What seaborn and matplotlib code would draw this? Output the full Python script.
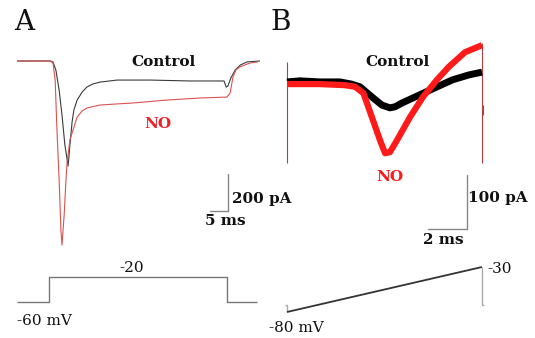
import numpy as np
import pandas as pd
import matplotlib
matplotlib.use("Agg")
import matplotlib.pyplot as plt
import seaborn as sns

# ---------------- data ----------------
# Panel A: current traces, time in ms, current in pA
a_ctrl_t = [0, 9.2, 10.0, 10.8, 11.7, 12.5, 13.3, 14.2, 14.7, 15.3, 15.8, 16.7, 18.1, 19.4,
            21.1, 23.1, 27.8, 36.9, 48.1, 57.5, 57.8, 58.1, 58.6, 59.4, 60.6, 62.0, 63.9, 67.5]
a_ctrl_i = [0, 0, -5, -49, -157, -292, -454, -568, -454, -330, -265, -211, -168, -141,
            -124, -114, -103, -103, -108, -108, -124, -141, -135, -92, -49, -22, -5, 0]
a_no_t = [0, 9.2, 10.0, 10.6, 11.1, 11.7, 12.2, 12.5, 13.1, 13.6, 13.9, 14.7, 15.3, 16.7,
          18.1, 19.4, 23.1, 27.8, 32.2, 41.7, 50.8, 58.3, 59.2, 60.0, 60.8, 61.9, 64.7, 66.9]
a_no_i = [0, 0, -11, -103, -373, -643, -914, -995, -832, -643, -551, -427, -389, -303,
          -270, -254, -238, -232, -227, -211, -200, -195, -173, -86, -49, -32, -11, -5]
# Panel A: voltage protocol (ms, mV)
a_v_t = [0, 8.9, 8.9, 58.3, 58.3, 66.7]
a_v_mv = [-60, -60, -20, -20, -60, -60]

# Panel B: ramp currents (ms, pA)
b_ctrl_t = [0, 0.67, 1.69, 2.72, 3.3, 3.74, 4.36, 4.87, 5.28, 5.54, 5.9, 6.8, 7.7, 8.5, 9.33, 9.85, 10]
b_ctrl_i = [2, 4, 2, 2, -2, -7, -26, -41, -46, -44, -37, -22, -7, 6, 15, 19, 20]
b_no_t = [0, 1.69, 2.97, 3.49, 3.92, 4.41, 4.77, 5.03, 5.28, 5.64, 6.31, 6.97, 7.69, 8.3, 9.13, 10]
b_no_i = [-2, -2, -4, -7, -19, -69, -106, -130, -128, -106, -63, -26, 6, 30, 57, 70]
# capacitive transients (ms, pA range)
b_trans_t = [0, 10, 10.05]
b_trans_lo = [-148, -148, -59]
b_trans_hi = [39, 74, -41]
# Panel B: voltage ramp (ms, mV)
b_v_t = [-0.1, 0, 0, 10, 10, 10.1]
b_v_mv = [-72, -72, -80, -30, -72, -72]

# scale bars
a_bar_pa, a_bar_ms = 200, 5
b_bar_pa, b_bar_ms = 100, 2

# ---------------- figure ----------------
W, H = 535, 338
sns.set_theme(style="white")
plt.rcParams["font.family"] = ["DejaVu Serif"]
fig = plt.figure(figsize=(W / 100, H / 100), dpi=100)
fig.patch.set_facecolor("white")


def px_axes(x0, y0, x1, y1, xmap, ymap):
    """Axes covering a pixel box; xmap/ymap: (origin_px, px_per_unit)"""
    ax = fig.add_axes([x0 / W, 1 - y1 / H, (x1 - x0) / W, (y1 - y0) / H])
    ox, sx = xmap
    oy, sy = ymap
    ax.set_xlim((x0 - ox) / sx, (x1 - ox) / sx)
    ax.set_ylim((oy - y1) / sy, (oy - y0) / sy)
    ax.set_axis_off()
    ax.patch.set_alpha(0)
    return ax


def txt(x, y, s, **kw):
    fig.text(x / W, 1 - y / H, s, **kw)


def trace(ax, x, y, color, lw):
    sns.lineplot(x=x, y=y, ax=ax, color=color, lw=lw, sort=False, estimator=None,
                 solid_joinstyle="round", solid_capstyle="butt")


# Panel A currents
axA = px_axes(5, 40, 265, 252, (17, 3.6), (61, 0.185))
trace(axA, a_ctrl_t, a_ctrl_i, "#3a3a3a", 0.8)
trace(axA, a_no_t, a_no_i, "#d9534f", 0.8)
tb = 58.6
ib = -811
axA.plot([tb, tb], [ib, ib + a_bar_pa], color="#888888", lw=1)
axA.plot([tb - a_bar_ms, tb], [ib, ib], color="#888888", lw=1)

# Panel A voltage: y_px = 302 - (V + 60) * 0.625 -> V=0 at 264.5
axAv = px_axes(5, 255, 265, 338, (17, 3.6), (264.5, 0.625))
trace(axAv, a_v_t, a_v_mv, "#777777", 1.0)

# Panel B currents
axB = px_axes(280, 30, 535, 250, (287, 19.5), (83, 0.54))
axB.vlines(b_trans_t, b_trans_lo, b_trans_hi, color="#b04040", lw=0.8)
trace(axB, b_ctrl_t, b_ctrl_i, "black", 5.0)
trace(axB, b_no_t, b_no_i, "#ff1a1a", 4.5)
tb2 = 9.23
ib2 = -270
axB.plot([tb2, tb2], [ib2, ib2 + b_bar_pa], color="#888888", lw=1)
axB.plot([tb2 - b_bar_ms, tb2], [ib2, ib2], color="#888888", lw=1)

# Panel B voltage ramp: y_px = 312 - (V + 80) * 0.9 -> V=0 at 240
axBv = px_axes(280, 255, 535, 338, (287, 19.5), (240, 0.9))
trace(axBv, b_v_t[:3], b_v_mv[:3], "#aaaaaa", 1.0)
trace(axBv, b_v_t[2:4], b_v_mv[2:4], "#333333", 1.3)
trace(axBv, b_v_t[3:], b_v_mv[3:], "#aaaaaa", 1.0)

# ---------------- text ----------------
bold = dict(fontweight="bold", color="#111111")
txt(14, 23, "A", fontsize=20, ha="left", va="center", color="#111111")
txt(270, 23, "B", fontsize=20, ha="left", va="center", color="#111111")
txt(164, 62, "Control", fontsize=11, ha="center", va="center", **bold)
txt(158, 124, "NO", fontsize=11, ha="center", va="center", fontweight="bold", color="#e8242b")
txt(232, 199, "200 pA", fontsize=11, ha="left", va="center", **bold)
txt(225, 221, "5 ms", fontsize=11, ha="center", va="center", **bold)
txt(398, 62, "Control", fontsize=11, ha="center", va="center", **bold)
txt(390, 177, "NO", fontsize=11, ha="center", va="center", fontweight="bold", color="#ff1a1a")
txt(468, 198, "100 pA", fontsize=11, ha="left", va="center", **bold)
txt(443, 240, "2 ms", fontsize=11, ha="center", va="center", **bold)
txt(132, 268, "-20", fontsize=11, ha="center", va="center", color="#111111")
txt(17, 321, "-60 mV", fontsize=11, ha="left", va="center", color="#111111")
txt(487, 269, "-30", fontsize=11, ha="left", va="center", color="#111111")
txt(269, 328, "-80 mV", fontsize=11, ha="left", va="center", color="#111111")

fig.savefig("out.png", dpi=100, facecolor="white")
